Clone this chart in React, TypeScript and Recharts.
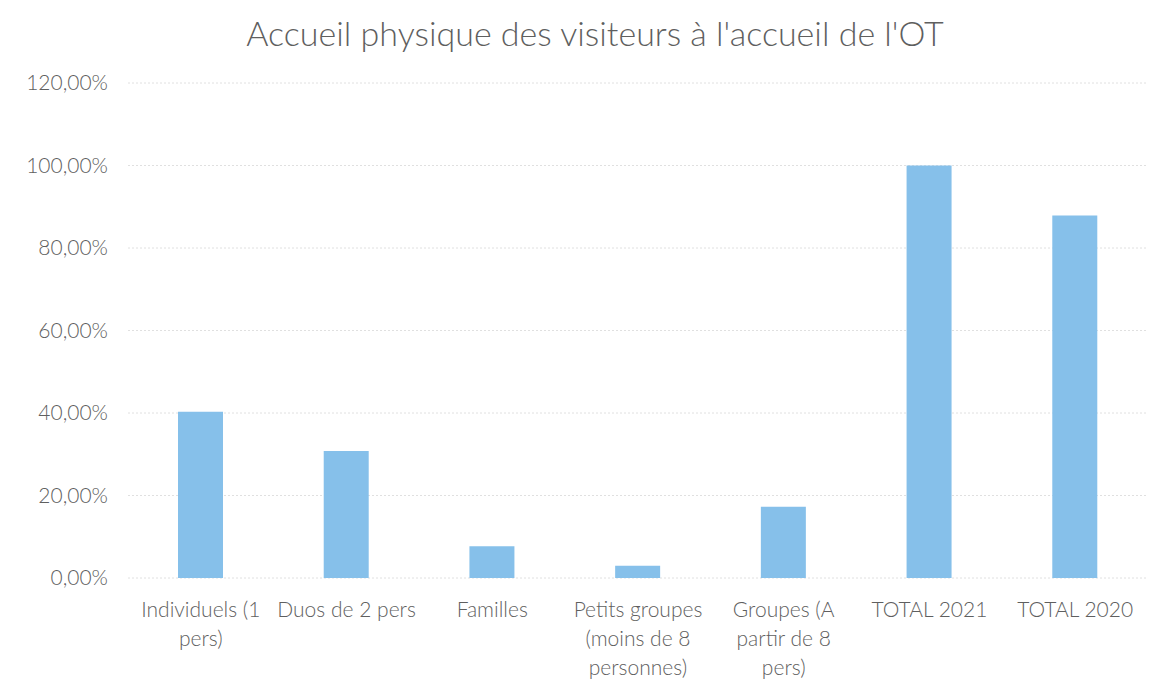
import { Bar, BarChart, CartesianGrid, XAxis, YAxis } from "recharts";

const CATEGORIES: string[] = [
  "Individuels (1 pers)",
  "Duos de 2 pers",
  "Familles",
  "Petits groupes (moins de 8 personnes)",
  "Groupes (A partir de 8 pers)",
  "TOTAL 2021",
  "TOTAL 2020",
];

const VALUES: number[] = [40.3, 30.8, 7.7, 3.0, 17.3, 100, 87.9];

const Y_TICKS: number[] = [0, 20, 40, 60, 80, 100, 120];

const TEXT = "#5f5f5f";
const FONT = "Lato, 'Open Sans', sans-serif";

// découpe grossière en lignes de 15 caractères max, comme le retour à la ligne d'Excel
function wrap(label: string, max = 15): string[] {
  const lines: string[] = [];
  let cur = "";
  for (const w of label.split(" ")) {
    const next = cur ? `${cur} ${w}` : w;
    if (next.length > max && cur) {
      lines.push(cur);
      cur = w;
    } else {
      cur = next;
    }
  }
  if (cur) lines.push(cur);
  return lines;
}

function fmtPct(v: number): string {
  return `${Number(v).toFixed(2).replace(".", ",")}%`;
}

function CategoryTick(props: { x?: number; y?: number; payload?: { value: string } }) {
  const { x = 0, y = 0, payload } = props;
  const lines = wrap(payload?.value ?? "");
  return (
    <text x={x} y={y} textAnchor="middle" fill={TEXT} fontSize={21} fontFamily={FONT} fontWeight={300}>
      {lines.map((l, i) => (
        <tspan key={i} x={x} dy={i === 0 ? 31 : 29}>
          {l}
        </tspan>
      ))}
    </text>
  );
}

export default function App() {
  const data = CATEGORIES.map((name, i) => ({ name, value: VALUES[i] }));
  return (
    <div style={{ position: "absolute", left: 0, top: 0, width: 1170, height: 694, background: "#fff" }}>
      <div
        style={{
          position: "absolute",
          left: 0,
          top: 12,
          width: 1190,
          textAlign: "center",
          fontFamily: FONT,
          fontSize: 34,
          fontWeight: 300,
          color: TEXT,
        }}
      >
        Accueil physique des visiteurs à l'accueil de l'OT
      </div>
      <BarChart
        width={1170}
        height={694}
        data={data}
        margin={{ top: 83, right: 22, left: 0, bottom: 0 }}
      >
        <CartesianGrid vertical={false} stroke="#e0e0e0" strokeDasharray="2 2" />
        <XAxis
          dataKey="name"
          interval={0}
          height={116}
          axisLine={false}
          tickLine={false}
          tick={<CategoryTick />}
        />
        <YAxis
          width={128}
          domain={[0, 120]}
          ticks={Y_TICKS}
          tickFormatter={fmtPct}
          axisLine={false}
          tickLine={false}
          tickSize={0}
          tickMargin={20}
          tick={{ fill: TEXT, fontSize: 21, fontFamily: FONT, fontWeight: 300 }}
        />
        <Bar dataKey="value" fill="#86c0ea" barSize={45} isAnimationActive={false} />
      </BarChart>
    </div>
  );
}
